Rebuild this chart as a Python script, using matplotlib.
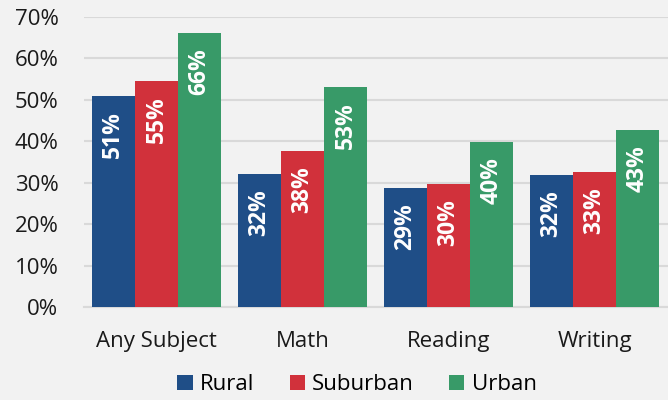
import matplotlib.pyplot as plt
import numpy as np

plt.rcParams['font.family'] = ['Open Sans', 'DejaVu Sans']

subjects = ["Any Subject", "Math", "Reading", "Writing"]
series = ["Rural", "Suburban", "Urban"]
rural = [0.51, 0.32, 0.287, 0.318]
suburban = [0.546, 0.377, 0.297, 0.325]
urban = [0.662, 0.531, 0.399, 0.428]
labels = [["51%", "32%", "29%", "32%"],
          ["55%", "38%", "30%", "33%"],
          ["66%", "53%", "40%", "43%"]]
colors = ["#1f4e87", "#d1313b", "#389a68"]
bg = "#f2f2f2"

fig = plt.figure(figsize=(6.68, 4.0), dpi=100, facecolor=bg)
ax = fig.add_axes([83.5 / 668, 1 - 307 / 400, 584 / 668, 290 / 400])
ax.set_facecolor(bg)

x = np.arange(len(subjects))
w = 0.295
for i, (vals, col, name) in enumerate(zip([rural, suburban, urban], colors, series)):
    pos = x + (i - 1) * w
    ax.bar(pos, vals, width=w, color=col, label=name, zorder=3)
    for p, v, t in zip(pos, vals, labels[i]):
        ax.annotate(t, (p, v), xytext=(0, -11), textcoords="offset points",
                    rotation=90, ha="center", va="top", color="white",
                    fontsize=16.5, fontweight="bold")

ax.set_xlim(-0.5, 3.5)
ax.set_ylim(0, 0.7)
ax.set_yticks(np.arange(0, 0.71, 0.1))
ax.set_yticklabels([f"{int(round(t * 100))}%" for t in np.arange(0, 0.71, 0.1)])
ax.set_xticks(x)
ax.set_xticklabels(subjects)
ax.tick_params(axis="both", length=0, labelsize=16, colors="#1a1a1a")
ax.tick_params(axis="y", pad=18)
ax.tick_params(axis="x", pad=17)
ax.grid(axis="y", color="#d9d9d9", linewidth=1.5, zorder=0)
for s in ["top", "right", "left"]:
    ax.spines[s].set_visible(False)
ax.spines["bottom"].set_color("#d9d9d9")
ax.spines["bottom"].set_linewidth(1.5)

fig.legend(loc="center", bbox_to_anchor=(357 / 668, 1 - 385 / 400), ncol=3,
           frameon=False, fontsize=16, handlelength=0.68, handleheight=0.68,
           handletextpad=0.32, columnspacing=1.6)

fig.savefig("out.png", dpi=100, facecolor=bg)
